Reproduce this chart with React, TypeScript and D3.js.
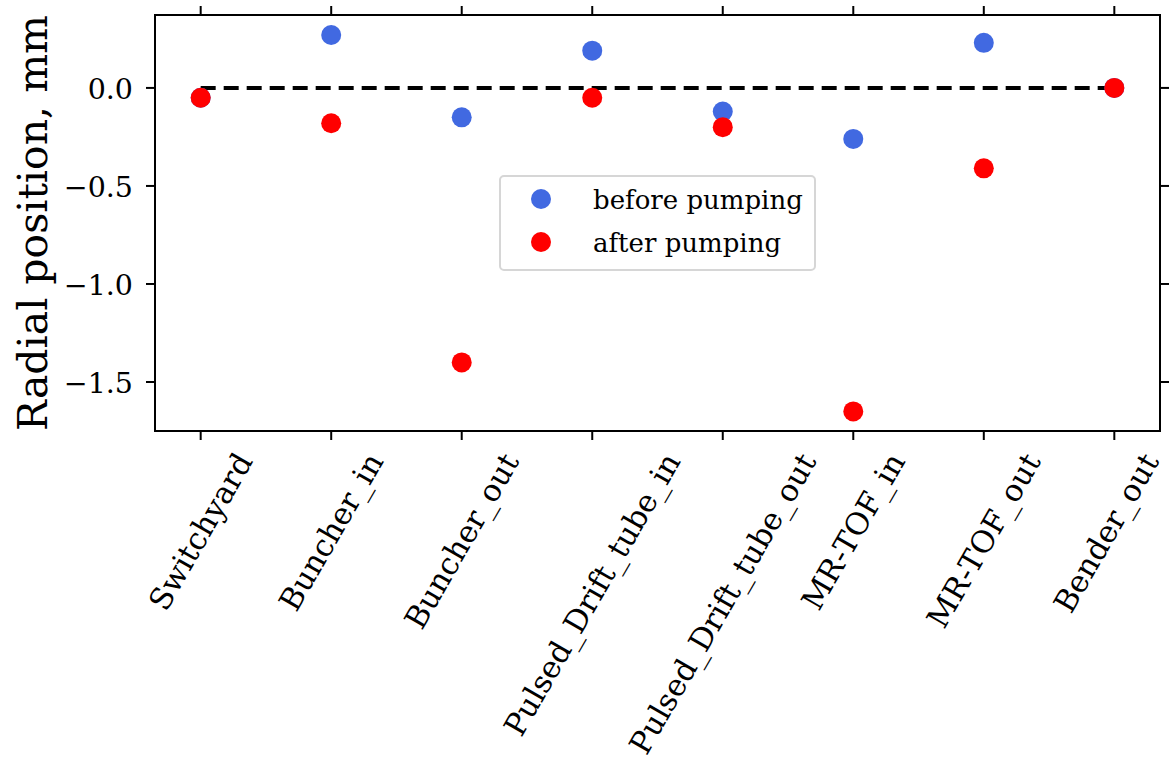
import React, { useEffect, useRef } from "react";
import * as d3 from "d3";

const categories = [
  "Switchyard",
  "Buncher_in",
  "Buncher_out",
  "Pulsed_Drift_tube_in",
  "Pulsed_Drift_tube_out",
  "MR-TOF_in",
  "MR-TOF_out",
  "Bender_out",
];
const beforePumping = [-0.05, 0.27, -0.15, 0.19, -0.12, -0.26, 0.23, 0.0];
const afterPumping = [-0.05, -0.18, -1.4, -0.05, -0.2, -1.65, -0.41, 0.0];
const yTicks = [-1.5, -1.0, -0.5, 0.0];
const legendLabels = ["before pumping", "after pumping"];
const seriesColors = ["#4169E1", "#FF0000"];

const W = 1169;
const H = 769;
const FONT = "'DejaVu Serif', serif";

export default function App() {
  const ref = useRef<SVGSVGElement | null>(null);

  useEffect(() => {
    const svg = d3.select(ref.current);
    svg.selectAll("*").remove();

    const left = 155, right = 1160, top = 15, bottom = 431;
    const x = d3.scaleLinear().domain([-0.35, categories.length - 1 + 0.35]).range([left, right]);
    const y = d3.scaleLinear().domain([-1.75, 0.372]).range([bottom, top]);

    svg.append("rect").attr("width", W).attr("height", H).attr("fill", "white");

    // zero dashed line
    svg
      .append("line")
      .attr("x1", x(0))
      .attr("x2", x(categories.length - 1))
      .attr("y1", y(0))
      .attr("y2", y(0))
      .attr("stroke", "black")
      .attr("stroke-width", 4)
      .attr("stroke-dasharray", "15,8");

    // points
    const series = [beforePumping, afterPumping];
    series.forEach((vals, si) => {
      svg
        .append("g")
        .selectAll("circle")
        .data(vals)
        .join("circle")
        .attr("cx", (_d, i) => x(i))
        .attr("cy", (d) => y(d))
        .attr("r", 10)
        .attr("fill", seriesColors[si]);
    });

    // spines
    svg
      .append("rect")
      .attr("x", left)
      .attr("y", top)
      .attr("width", right - left)
      .attr("height", bottom - top)
      .attr("fill", "none")
      .attr("stroke", "black")
      .attr("stroke-width", 2);

    const tickLen = 9;
    categories.forEach((_c, i) => {
      svg.append("line").attr("x1", x(i)).attr("x2", x(i)).attr("y1", bottom).attr("y2", bottom + tickLen).attr("stroke", "black").attr("stroke-width", 2);
      svg.append("line").attr("x1", x(i)).attr("x2", x(i)).attr("y1", top).attr("y2", top - tickLen).attr("stroke", "black").attr("stroke-width", 2);
    });
    yTicks.forEach((t) => {
      svg.append("line").attr("x1", left).attr("x2", left - tickLen).attr("y1", y(t)).attr("y2", y(t)).attr("stroke", "black").attr("stroke-width", 2);
      svg.append("line").attr("x1", right).attr("x2", right + tickLen).attr("y1", y(t)).attr("y2", y(t)).attr("stroke", "black").attr("stroke-width", 2);
      svg
        .append("text")
        .attr("x", 133)
        .attr("y", y(t) + 2)
        .attr("text-anchor", "end")
        .attr("dominant-baseline", "central")
        .attr("font-family", FONT)
        .attr("font-size", 28.5)
        .attr("fill", "black")
        .text(d3.format(".1f")(t).replace("-", "\u2212"));
    });

    // x tick labels rotated 60deg, bbox centered on tick, top aligned
    const fs = 30.5;
    const lineH = fs * 1.16;
    const labelTop = 447;
    categories.forEach((c, i) => {
      const g = svg.append("g");
      const t = g
        .append("text")
        .attr("text-anchor", "middle")
        .attr("dominant-baseline", "central")
        .attr("font-family", FONT)
        .attr("font-size", fs)
        .attr("fill", "black")
        .text(c);
      const w = (t.node() as SVGTextElement).getComputedTextLength();
      const bh = w * Math.sin(Math.PI / 3) + lineH * Math.cos(Math.PI / 3);
      const cx = Math.min(x(i), W - 3 - (w * 0.5 + lineH * 0.866) / 2);
      g.attr("transform", `translate(${cx},${labelTop + bh / 2}) rotate(-60)`);
    });

    // y axis label
    svg
      .append("text")
      .attr("transform", `translate(47,${(top + bottom) / 2}) rotate(-90)`)
      .attr("text-anchor", "middle")
      .attr("font-family", FONT)
      .attr("font-size", 41)
      .attr("fill", "black")
      .text("Radial position, mm");

    // legend
    const lg = svg.append("g");
    lg.append("rect")
      .attr("x", 500)
      .attr("y", 176)
      .attr("width", 315)
      .attr("height", 94)
      .attr("rx", 4)
      .attr("fill", "white")
      .attr("stroke", "#d6d6d6")
      .attr("stroke-width", 2);
    legendLabels.forEach((lab, i) => {
      const cy = 199 + i * 43;
      lg.append("circle").attr("cx", 541).attr("cy", cy).attr("r", 10).attr("fill", seriesColors[i]);
      lg.append("text")
        .attr("x", 593)
        .attr("y", cy + 1)
        .attr("dominant-baseline", "central")
        .attr("font-family", FONT)
        .attr("font-size", 26)
        .attr("fill", "black")
        .text(lab);
    });
  }, []);

  return (
    <svg
      ref={ref}
      width={W}
      height={H}
      style={{ position: "absolute", left: 0, top: 0 }}
    />
  );
}
